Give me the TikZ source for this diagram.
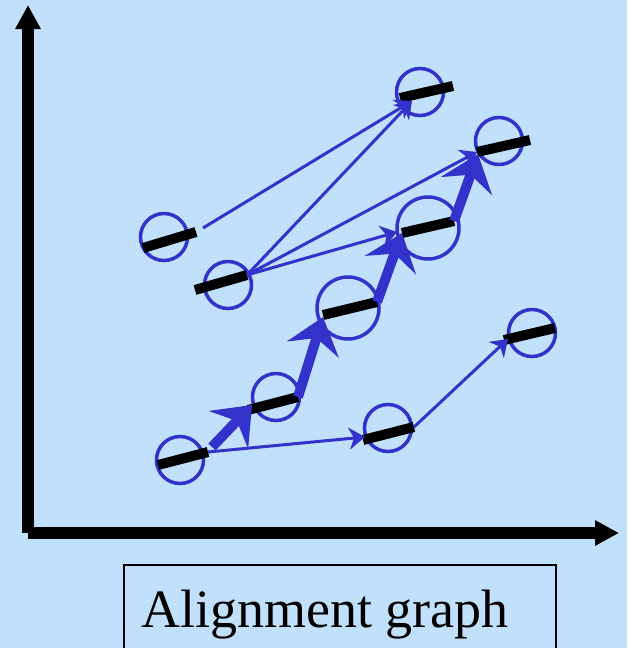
\documentclass[tikz,border=0pt]{standalone}
\usepackage{fontspec}
\setmainfont{Liberation Serif}
\usetikzlibrary{arrows.meta}
\definecolor{paleblue}{RGB}{193,224,252}
\definecolor{linkblue}{RGB}{51,51,204}

\begin{document}
\begin{tikzpicture}[x=1pt, y=-1pt,
    seg/.style={line width=10pt},
    site/.style={circle, draw=linkblue, line width=3.5pt, inner sep=0pt, minimum size=47pt},
    bigsite/.style={site, minimum size=62pt},
    link/.style={linkblue, line width=3pt, -{Stealth[length=16pt,width=22pt,inset=5pt]}},
    chain/.style={linkblue, line width=10pt, -{Stealth[length=34pt,width=54pt,inset=12pt]}},
    axis/.style={line width=12pt, -{Triangle[length=24pt,width=24pt]}}]
    \fill[paleblue] (0,0) rectangle (627,648);
    \clip (0,0) rectangle (627,648);
    % Axes
    \coordinate (origin) at (28,533);
    \coordinate (ytip) at (28,5);
    \coordinate (xtip) at (619,533);
    \draw[axis] (origin) -- (ytip);
    \draw[axis] (origin) -- (xtip);
    % Sites (circles)
    \node[site] (cA) at (164,237) {};
    \node[site] (cB) at (228,285) {};
    \node[site] (cC) at (420,92) {};
    \node[site] (cD) at (499,141) {};
    \node[bigsite] (cE) at (428,228) {};
    \node[bigsite] (cF) at (348,308) {};
    \node[site] (cG) at (276,397) {};
    \node[site] (cH) at (180,460) {};
    \node[site] (cI) at (388,428) {};
    \node[site] (cJ) at (532,333) {};
    % Segment end points
    \coordinate (a0) at (143,248); \coordinate (a1) at (196,232);
    \coordinate (b0) at (195,290); \coordinate (b1) at (247,275);
    \coordinate (c0) at (400,98);  \coordinate (c1) at (453,86);
    \coordinate (d0) at (477,152); \coordinate (d1) at (530,140);
    \coordinate (e0) at (402,233); \coordinate (e1) at (454,221);
    \coordinate (f0) at (323,315); \coordinate (f1) at (377,302);
    \coordinate (g0) at (248,410); \coordinate (g1) at (298,397);
    \coordinate (h0) at (158,465); \coordinate (h1) at (208,452);
    \coordinate (i0) at (363,440); \coordinate (i1) at (414,427);
    \coordinate (j0) at (504,340); \coordinate (j1) at (555,328);
    % Segments
    \foreach \s in {a,b,c,d,e,f,g,h,i,j}
        \draw[seg] (\s0) -- (\s1);
    % Thin links
    \coordinate (aout) at (203,228);
    \coordinate (cin) at (412,101);
    \draw[link] (aout) -- (cin);
    \draw[link] (b1) -- (cin);
    \draw[link] (b1) -- (d0);
    \draw[link] (b1) -- (397,232);
    \draw[link] (h1) -- (365,437);
    \draw[link] (i1) -- (508,339);
    % Thick chain
    \draw[chain] (212,447) -- (252,405);
    \draw[chain] (g1) -- (323,317);
    \draw[chain] (f1) -- (e0);
    \draw[chain] (e1) -- (478,154);
    % Caption box
    \draw[line width=2pt] (124,565) rectangle (556,700);
    \node[anchor=base] (caption) at (325,627)
        {\fontsize{54}{60}\selectfont Alignment graph};
\end{tikzpicture}
\end{document}
